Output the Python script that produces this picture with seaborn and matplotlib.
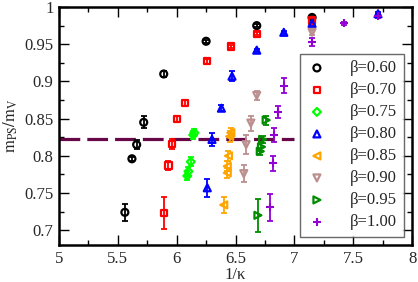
import matplotlib
matplotlib.use("Agg")
import matplotlib.pyplot as plt
import matplotlib.ticker as mticker
import seaborn as sns

# ── data: 1/kappa, m_PS/m_V and error per beta ──────────────
b060_x = [5.56, 5.62, 5.66, 5.72, 5.89, 6.25, 6.68, 7.15]
b060_y = [0.724, 0.796, 0.815, 0.845, 0.910, 0.954, 0.975, 0.986]
b060_e = [0.011, 0.003, 0.006, 0.008, 0.004, 0.002, 0.002, 0.002]

b070_x = [5.89, 5.93, 5.96, 6.00, 6.07, 6.26, 6.46, 6.68, 7.15]
b070_y = [0.723, 0.787, 0.816, 0.849, 0.871, 0.927, 0.947, 0.964, 0.982]
b070_e = [0.021, 0.006, 0.007, 0.004, 0.004, 0.003, 0.002, 0.002, 0.002]

b075_x = [6.09, 6.10, 6.12, 6.14, 6.15]
b075_y = [0.773, 0.779, 0.792, 0.828, 0.831]
b075_e = [0.006, 0.006, 0.006, 0.006, 0.005]

b080_x = [6.26, 6.30, 6.38, 6.47, 6.68, 6.91, 7.15, 7.71]
b080_y = [0.757, 0.822, 0.864, 0.907, 0.942, 0.966, 0.978, 0.991]
b080_e = [0.012, 0.009, 0.004, 0.007, 0.002, 0.002, 0.002, 0.002]

b085_x = [6.40, 6.43, 6.43, 6.44, 6.45, 6.46]
b085_y = [0.734, 0.777, 0.786, 0.800, 0.826, 0.831]
b085_e = [0.011, 0.007, 0.007, 0.007, 0.007, 0.007]

b090_x = [6.57, 6.59, 6.63, 6.68, 7.15]
b090_y = [0.776, 0.815, 0.844, 0.881, 0.966]
b090_e = [0.011, 0.013, 0.010, 0.006, 0.003]

b095_x = [6.69, 6.71, 6.72, 6.73, 6.76]
b095_y = [0.720, 0.806, 0.812, 0.822, 0.848]
b095_e = [0.022, 0.005, 0.005, 0.005, 0.006]

b100_x = [6.79, 6.82, 6.83, 6.86, 6.91, 7.15, 7.42, 7.71]
b100_y = [0.731, 0.790, 0.828, 0.859, 0.894, 0.953, 0.978, 0.988]
b100_e = [0.018, 0.010, 0.010, 0.008, 0.010, 0.005, 0.002, 0.003]

line_y = 0.823
line_x = [5.0, 7.0]

SERIES = [
    ("β=0.60", b060_x, b060_y, b060_e, "#000000", "o"),
    ("β=0.70", b070_x, b070_y, b070_e, "#ff0000", "s"),
    ("β=0.75", b075_x, b075_y, b075_e, "#00ff00", "D"),
    ("β=0.80", b080_x, b080_y, b080_e, "#0000ff", "^"),
    ("β=0.85", b085_x, b085_y, b085_e, "#ffa500", "<"),
    ("β=0.90", b090_x, b090_y, b090_e, "#bc8f8f", "v"),
    ("β=0.95", b095_x, b095_y, b095_e, "#008b00", ">"),
    ("β=1.00", b100_x, b100_y, b100_e, "#9400d3", "+"),
]

sns.set_style("ticks")
plt.rcParams["font.family"] = ["Liberation Serif", "DejaVu Serif"]
plt.rcParams["mathtext.fontset"] = "stix"

fig = plt.figure(figsize=(4.18, 2.82), dpi=100)
ax = fig.add_axes([0.141, 0.131, 0.845, 0.844])

ax.plot(line_x, [line_y, line_y], color="#670748", lw=2.3, dashes=(6.5, 2.2), zorder=1)

for label, xs, ys, es, col, mk in SERIES:
    ax.errorbar(xs, ys, yerr=es, fmt="none", ecolor=col, elinewidth=1.3,
                capsize=2.5, capthick=1.3, zorder=2)
    sizes = {"D": 16, "s": 20, "+": 30}
    if mk == "+":
        sns.scatterplot(x=xs, y=ys, ax=ax, marker=mk, color=col, s=sizes[mk],
                        linewidth=1.5, label=label, zorder=3)
    else:
        sns.scatterplot(x=xs, y=ys, ax=ax, marker=mk, facecolor="none",
                        edgecolor=col, s=sizes.get(mk, 25), linewidth=1.6,
                        label=label, zorder=3)

ax.set_xlim(5, 8)
ax.set_ylim(0.68, 1.0)
ax.xaxis.set_major_locator(mticker.MultipleLocator(0.5))
ax.xaxis.set_minor_locator(mticker.MultipleLocator(0.25))
ax.yaxis.set_major_locator(mticker.MultipleLocator(0.05))
ax.yaxis.set_minor_locator(mticker.MultipleLocator(0.025))
ax.xaxis.set_major_formatter(mticker.FuncFormatter(lambda v, _: f"{v:g}"))
ax.yaxis.set_major_formatter(mticker.FuncFormatter(lambda v, _: f"{v:g}"))
ax.tick_params(which="both", direction="in", top=True, right=True,
               labelsize=12, width=1.0, color="black")
ax.tick_params(which="major", length=7, pad=4)
ax.tick_params(which="minor", length=3.5)
for sp in ax.spines.values():
    sp.set_linewidth(1.8)
    sp.set_color("black")

ax.set_xlabel("1/κ", fontsize=12, labelpad=0)
ax.set_ylabel(r"$\mathrm{m_{PS}/m_{V}}$", fontsize=12, labelpad=3)

leg = ax.legend(loc="lower right", bbox_to_anchor=(0.977, 0.034), fontsize=12,
                frameon=True, fancybox=False, edgecolor="#444444",
                handlelength=1.2, handletextpad=1.4, labelspacing=0.36,
                borderpad=0.4, borderaxespad=0)
leg.get_frame().set_linewidth(1.0)

fig.savefig("out.png", dpi=100)
